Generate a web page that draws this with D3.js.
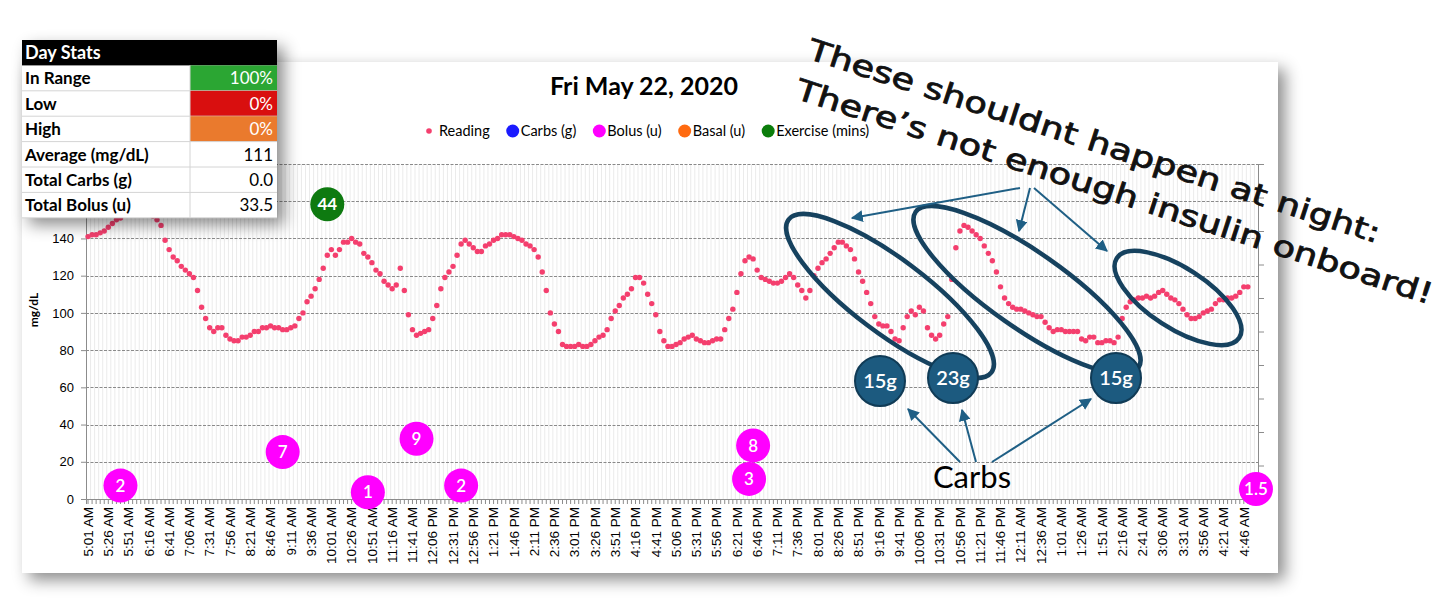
<!DOCTYPE html>
<html>
<head>
<meta charset="utf-8">
<script src="https://cdn.jsdelivr.net/npm/d3@7"></script>
<style>
    body { margin: 0; background: #fff; }
    svg { display: block; }
</style>
</head>
<body>
<svg id="chart" width="1456" height="616"></svg>
<script>
// glucose readings, one every 5 minutes from 5:01 AM
const readings = [
    141, 142, 142, 143, 144, 146, 148, 150, 151, 153,
    155, 157, 158, 158, 157, 155, 152, 150, 147, 139,
    134, 130, 128, 125, 123, 121, 119, 112, 103, 97,
    92, 90, 92, 92, 88, 86, 85, 85, 87, 87,
    88, 90, 90, 92, 92, 93, 92, 92, 91, 91,
    92, 93, 97, 100, 106, 109, 113, 118, 124, 131,
    134, 131, 134, 138, 138, 140, 138, 137, 132, 130,
    127, 123, 121, 117, 115, 113, 115, 124, 112, 99,
    91, 88, 89, 90, 91, 97, 104, 113, 119, 122,
    125, 131, 137, 139, 137, 135, 133, 133, 136, 137,
    139, 140, 142, 142, 142, 141, 140, 139, 137, 136,
    134, 130, 122, 112, 100, 94, 90, 83, 82, 82,
    82, 83, 82, 82, 83, 85, 87, 88, 91, 97,
    101, 104, 108, 110, 113, 119, 119, 116, 110, 105,
    99, 90, 85, 82, 82, 83, 84, 86, 87, 88,
    86, 85, 84, 84, 85, 86, 86, 91, 97, 102,
    111, 121, 128, 130, 129, 123, 119, 118, 117, 116,
    116, 117, 119, 121, 119, 115, 112, 108, 112, 120,
    124, 127, 129, 132, 135, 138, 138, 136, 134, 129,
    122, 117, 111, 105, 98, 94, 93, 93, 90, 86,
    85, 92, 98, 101, 99, 103, 101, 92, 88, 86,
    88, 94, 98, 118, 135, 144, 147, 146, 144, 142,
    140, 136, 132, 128, 122, 114, 108, 105, 103, 102,
    102, 101, 100, 99, 98, 98, 95, 92, 90, 91,
    91, 90, 90, 90, 90, 86, 85, 87, 87, 84,
    84, 85, 85, 84, 87, 97, 103, 106, 107, 108,
    108, 109, 108, 109, 111, 112, 110, 108, 107, 105,
    102, 99, 97, 97, 98, 100, 101, 102, 105, 107,
    107, 108, 108, 109, 111, 114, 114
];

const slotCount = 289;  // 5:01 AM -> 5:01 AM next day
const startTime = "5:01 AM";

const tickLabels = [
    "5:01 AM", "5:26 AM", "5:51 AM", "6:16 AM", "6:41 AM", "7:06 AM", "7:31 AM", "7:56 AM",
    "8:21 AM", "8:46 AM", "9:11 AM", "9:36 AM", "10:01 AM", "10:26 AM", "10:51 AM", "11:16 AM",
    "11:41 AM", "12:06 PM", "12:31 PM", "12:56 PM", "1:21 PM", "1:46 PM", "2:11 PM", "2:36 PM",
    "3:01 PM", "3:26 PM", "3:51 PM", "4:16 PM", "4:41 PM", "5:06 PM", "5:31 PM", "5:56 PM",
    "6:21 PM", "6:46 PM", "7:11 PM", "7:36 PM", "8:01 PM", "8:26 PM", "8:51 PM", "9:16 PM",
    "9:41 PM", "10:06 PM", "10:31 PM", "10:56 PM", "11:21 PM", "11:46 PM", "12:11 AM", "12:36 AM",
    "1:01 AM", "1:26 AM", "1:51 AM", "2:16 AM", "2:41 AM", "3:06 AM", "3:31 AM", "3:56 AM",
    "4:21 AM", "4:46 AM"
];
const yTicks = [0, 20, 40, 60, 80, 100, 120, 140, 160, 180];
const yTicksShown = [0, 20, 40, 60, 80, 100, 120, 140]; // 160/180 sit under the stats table

const bolusTimes = ["5:41 AM", "9:01 AM", "10:46 AM", "11:46 AM", "12:41 PM", "6:36 PM", "6:41 PM", "5:01 AM"];
const bolusUnits = [2, 7, 1, 9, 2, 3, 8, 1.5];

const exerciseTimes = ["9:56 AM"];
const exerciseMins = [44];

const legendNames = ["Reading", "Carbs (g)", "Bolus (u)", "Basal (u)", "Exercise (mins)"];
const legendColors = ["#f43f6e", "#1a1aff", "#ff00ff", "#ff6a10", "#0b7d0b"];

const statLabels = ["In Range", "Low", "High", "Average (mg/dL)", "Total Carbs (g)", "Total Bolus (u)"];
const statValues = ["100%", "0%", "0%", "111", "0.0", "33.5"];
const statFills = ["#2ba633", "#d90f0f", "#ea7a2d", null, null, null];

const carbNotes = ["15g", "23g", "15g"];

// ---------------------------------------------------------------------------

const svg = d3.select("#chart");
const W = 1456, H = 616;
const plot = {left: 86, right: 1258, top: 164, bottom: 499};

const toMinutes = s => {
    const [hm, ap] = s.split(" ");
    let [h, m] = hm.split(":").map(Number);
    if (h === 12) h = 0;
    return h * 60 + m + (ap === "PM" ? 720 : 0);
};
// time strings -> slot index (chronological, may roll past midnight)
const toSlots = times => {
    let prev = -1;
    return times.map(t => {
        let off = toMinutes(t) - toMinutes(startTime);
        while (off <= prev) off += 1440;
        prev = off;
        return off / 5;
    });
};

const defs = svg.append("defs");
defs.append("filter").attr("id", "shadow").attr("x", "-10%").attr("y", "-10%")
    .attr("width", "125%").attr("height", "130%")
    .append("feDropShadow").attr("dx", 7).attr("dy", 7).attr("stdDeviation", 8)
    .attr("flood-color", "#000").attr("flood-opacity", 0.45);
defs.append("marker").attr("id", "arrow").attr("viewBox", "0 0 10 10")
    .attr("refX", 9).attr("refY", 5).attr("markerWidth", 6).attr("markerHeight", 6)
    .attr("orient", "auto")
    .append("path").attr("d", "M0,0L10,5L0,10z").attr("fill", "#1f5f85");

svg.append("rect").attr("width", W).attr("height", H).attr("fill", "#fff");

// chart card
svg.append("rect")
    .attr("x", 22).attr("y", 62).attr("width", 1256).attr("height", 511)
    .attr("fill", "#fff").attr("filter", "url(#shadow)");

const x = d3.scaleBand().domain(d3.range(slotCount)).range([plot.left, plot.right]).padding(0);
const xc = i => x(i) + x.bandwidth() / 2;
const y = d3.scaleLinear().domain([0, 180]).range([plot.bottom, plot.top]);
const y2 = d3.scaleLinear().domain([0, 50]).range([plot.bottom, plot.top]);

// minor vertical gridlines
svg.append("g")
    .selectAll("line")
    .data(d3.range(1, slotCount))
    .join("line")
    .attr("x1", d => x(d) + 0.5).attr("x2", d => x(d) + 0.5)
    .attr("y1", plot.top).attr("y2", plot.bottom)
    .attr("stroke", "#ebebeb").attr("stroke-width", 1);

// horizontal gridlines
svg.append("g")
    .selectAll("line")
    .data(yTicks.slice(1))
    .join("line")
    .attr("x1", plot.left).attr("x2", plot.right)
    .attr("y1", d => Math.round(y(d)) + 0.5).attr("y2", d => Math.round(y(d)) + 0.5)
    .attr("stroke", "#8a8a8a").attr("stroke-width", 1.2).attr("stroke-dasharray", "3,1.5");

// axes
const axisFont = "'Liberation Sans', Arial, sans-serif";
const yAxisG = svg.append("g").attr("transform", `translate(${plot.left},0)`)
    .call(d3.axisLeft(y).tickValues(yTicksShown).tickSize(5).tickPadding(7));
yAxisG.selectAll("text").attr("font-family", axisFont).attr("font-size", 13).attr("fill", "#000");
yAxisG.selectAll("line, path").attr("stroke", "#8c8c8c");

const y2AxisG = svg.append("g").attr("transform", `translate(${plot.right},0)`)
    .call(d3.axisRight(y2).ticks(10).tickSize(6).tickFormat(""));
y2AxisG.selectAll("line, path").attr("stroke", "#8c8c8c");

const xCombG = svg.append("g").attr("transform", `translate(0,${plot.bottom})`)
    .call(d3.axisBottom(x).tickSize(5).tickFormat(""));
xCombG.selectAll("line, path").attr("stroke", "#8c8c8c");

const xAxisG = svg.append("g").attr("transform", `translate(0,${plot.bottom})`)
    .call(d3.axisBottom(x).tickValues(d3.range(0, tickLabels.length * 5, 5))
        .tickSize(0).tickFormat(d => tickLabels[d / 5]));
xAxisG.select("path").remove();
xAxisG.selectAll("text")
    .attr("font-family", axisFont).attr("font-size", 13.5).attr("fill", "#000")
    .attr("transform", "rotate(-90)")
    .attr("x", -8).attr("y", 0).attr("dy", "0.35em")
    .style("text-anchor", "end");

svg.append("text")
    .attr("transform", "translate(38,310) rotate(-90)")
    .attr("text-anchor", "middle")
    .attr("font-family", "Lato, sans-serif").attr("font-weight", 700).attr("font-size", 12)
    .text("mg/dL");

// title
svg.append("text")
    .attr("x", 644).attr("y", 95).attr("text-anchor", "middle")
    .attr("font-family", "Lato, sans-serif").attr("font-weight", 700).attr("font-size", 25)
    .text("Fri May 22, 2020");

// legend
const legend = svg.append("g").attr("font-family", "Lato, sans-serif").attr("font-size", 14.5);
let cursor = 429;
legendNames.forEach((name, k) => {
    const r = k === 0 ? 2.8 : 6.5;
    legend.append("circle").attr("cx", cursor).attr("cy", 131).attr("r", r).attr("fill", legendColors[k]);
    const t = legend.append("text").attr("x", cursor + (k === 0 ? 10 : 8)).attr("y", 136).text(name);
    cursor = cursor + (k === 0 ? 10 : 8) + t.node().getComputedTextLength() + 23;
});

// readings
svg.append("g")
    .selectAll("circle")
    .data(readings)
    .join("circle")
    .attr("cx", (d, i) => xc(i))
    .attr("cy", d => y(d))
    .attr("r", 2.7)
    .attr("fill", "#f43f6e");

// bolus + exercise bubbles (secondary axis)
const bubble = (times, vals, color, bold) => {
    const g = svg.append("g");
    const slots = toSlots(times);
    const b = g.selectAll("g").data(vals).join("g")
        .attr("transform", (d, k) => `translate(${xc(slots[k])},${y2(d)})`);
    b.append("circle").attr("r", 17).attr("fill", color);
    b.append("text").attr("text-anchor", "middle").attr("dy", "0.36em")
        .attr("font-family", "Lato, sans-serif").attr("font-size", 17)
        .attr("font-weight", bold ? 700 : 600).attr("fill", "#fff")
        .text(d => d);
};
bubble(bolusTimes, bolusUnits, "#ff00ff", false);
bubble(exerciseTimes, exerciseMins, "#0e7a10", true);

// hand-drawn annotations
const ink = "#16425f";
const notes = svg.append("g");
[[890, 296, 127, 37, 37], [1027, 290, 136, 38, 35], [1178, 298, 73, 30, 33]].forEach(e => {
    notes.append("ellipse")
        .attr("cx", 0).attr("cy", 0).attr("rx", e[2]).attr("ry", e[3])
        .attr("transform", `translate(${e[0]},${e[1]}) rotate(${e[4]})`)
        .attr("fill", "none").attr("stroke", ink).attr("stroke-width", 4.5);
});
[[880, 381], [953, 378], [1116, 378]].forEach((p, k) => {
    notes.append("circle").attr("cx", p[0]).attr("cy", p[1]).attr("r", 25)
        .attr("fill", "#1c5a7f").attr("stroke", "#103b56").attr("stroke-width", 2);
    notes.append("text").attr("x", p[0]).attr("y", p[1]).attr("dy", "0.36em")
        .attr("text-anchor", "middle").attr("fill", "#fff")
        .attr("font-family", "Lato, sans-serif").attr("font-size", 20).attr("font-weight", 600)
        .text(carbNotes[k]);
});
[
    [1020, 188, 852, 218], [1030, 188, 1019, 231], [1034, 188, 1107, 251],
    [960, 462, 908, 409], [976, 462, 962, 410], [992, 462, 1091, 399]
].forEach(a => {
    notes.append("line").attr("x1", a[0]).attr("y1", a[1]).attr("x2", a[2]).attr("y2", a[3])
        .attr("stroke", "#1f5f85").attr("stroke-width", 2).attr("marker-end", "url(#arrow)");
});
notes.append("text").attr("x", 972).attr("y", 488).attr("text-anchor", "middle")
    .attr("font-family", "Lato, sans-serif").attr("font-size", 31).text("Carbs");

// day stats table
const table = svg.append("g").attr("font-family", "Lato, sans-serif").attr("font-size", 17);
const tx = 22, tw = 255, colX = 190, rowH = 25.4, ty = 40;
table.append("rect").attr("x", tx).attr("y", ty).attr("width", tw).attr("height", rowH * 7)
    .attr("fill", "#fff").attr("filter", "url(#shadow)");
table.append("rect").attr("x", tx).attr("y", ty).attr("width", tw).attr("height", rowH).attr("fill", "#000");
table.append("text").attr("x", tx + 3).attr("y", ty + 19).attr("fill", "#fff").attr("font-weight", 700)
    .attr("font-size", 18).text("Day Stats");
statLabels.forEach((lab, k) => {
    const ry = ty + rowH * (k + 1);
    if (statFills[k]) table.append("rect").attr("x", colX).attr("y", ry).attr("width", tx + tw - colX)
        .attr("height", rowH).attr("fill", statFills[k]);
    table.append("line").attr("x1", tx).attr("x2", tx + tw).attr("y1", ry + rowH).attr("y2", ry + rowH)
        .attr("stroke", "#d4d4d4");
    table.append("text").attr("x", tx + 3).attr("y", ry + 19).attr("font-weight", 700).text(lab);
    table.append("text").attr("x", tx + tw - 4).attr("y", ry + 19).attr("text-anchor", "end")
        .attr("fill", statFills[k] ? "#fff" : "#000").text(statValues[k]);
});
table.append("line").attr("x1", colX).attr("x2", colX).attr("y1", ty + rowH).attr("y2", ty + rowH * 7)
    .attr("stroke", "#d4d4d4");

// handwritten note
const hand = svg.append("g").attr("font-family", "'DejaVu Sans', sans-serif").attr("font-size", 29)
    .attr("fill", "#111").attr("stroke", "#111").attr("stroke-width", 0.8);
hand.append("text").attr("transform", "translate(806,58) rotate(18)")
    .attr("textLength", 600).attr("lengthAdjust", "spacingAndGlyphs")
    .text("These shouldnt happen at night:");
hand.append("text").attr("transform", "translate(794,98) rotate(18)")
    .attr("textLength", 668).attr("lengthAdjust", "spacingAndGlyphs")
    .text("There’s not enough insulin onboard!");
</script>
</body>
</html>
